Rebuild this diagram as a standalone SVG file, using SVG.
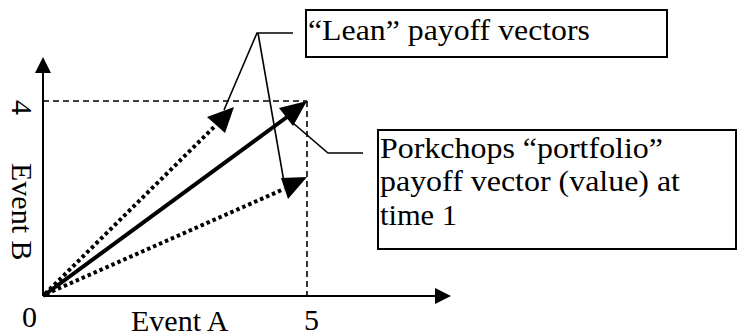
<svg xmlns="http://www.w3.org/2000/svg" width="737" height="336" viewBox="0 0 737 336">
<style>
.t{font-family:'Liberation Serif','Times New Roman',serif;font-size:30px;fill:#000}
.ax{stroke:#000;stroke-width:2;fill:none}
.dash{stroke:#000;stroke-width:1.6;stroke-dasharray:6 4;fill:none}
.dot{stroke:#000;stroke-width:4;stroke-dasharray:3.5 3;fill:none}
.vec{stroke:#000;stroke-width:4;fill:none}
.lead{stroke:#000;stroke-width:1.6;fill:none}
.head{fill:#000;stroke:none}
.box{fill:#fff;stroke:#000;stroke-width:2}
</style>
<g id="axes">
<line class="ax" x1="43" y1="296" x2="43" y2="70"/>
<polygon class="head" points="43,57 35,73 51,73"/>
<line class="ax" x1="43" y1="296" x2="437" y2="296"/>
<polygon class="head" points="451,296 435,288 435,304"/>
<line class="dash" x1="43" y1="101" x2="307" y2="101"/>
<line class="dash" x1="307" y1="101" x2="307" y2="296"/>
<text class="t" font-family="Liberation Serif" x="22" y="327">0</text>
<text class="t" font-family="Liberation Serif" x="131" y="331">Event A</text>
<text class="t" font-family="Liberation Serif" x="304" y="330">5</text>
<text class="t" font-family="Liberation Serif" transform="translate(12,100) rotate(90)">4</text>
<text class="t" font-family="Liberation Serif" transform="translate(12,163) rotate(90)">Event B</text>
</g>
<g id="connectors">
<line class="dot" x1="45" y1="294" x2="216" y2="125"/>
<polygon class="head" points="234,107 207,117 225,133"/>
<line class="dot" x1="46" y1="294" x2="284" y2="189"/>
<polygon class="head" points="307,177 281,178 288,199"/>
<line class="vec" x1="43" y1="296" x2="287" y2="117"/>
<polygon class="head" points="307,101 279,108 293,126"/>
<polyline class="lead" points="293,33 257,33 224,110"/>
<line class="lead" x1="258" y1="33" x2="284" y2="182"/>
<polyline class="lead" points="363,153 328,153 293,123"/>
</g>
<g id="lean-label">
<rect class="box" x="306" y="10" width="361" height="47"/>
<text class="t" font-family="Liberation Serif" x="308" y="40" textLength="282" lengthAdjust="spacingAndGlyphs">“Lean” payoff vectors</text>
</g>
<g id="porkchops-label">
<rect class="box" x="378" y="130" width="358" height="119"/>
<text class="t" font-family="Liberation Serif" x="380" y="158" textLength="283" lengthAdjust="spacingAndGlyphs">Porkchops “portfolio”</text>
<text class="t" font-family="Liberation Serif" x="380" y="191" textLength="300" lengthAdjust="spacingAndGlyphs">payoff vector (value) at</text>
<text class="t" font-family="Liberation Serif" x="380" y="225" textLength="77" lengthAdjust="spacingAndGlyphs">time 1</text>
</g>
</svg>
